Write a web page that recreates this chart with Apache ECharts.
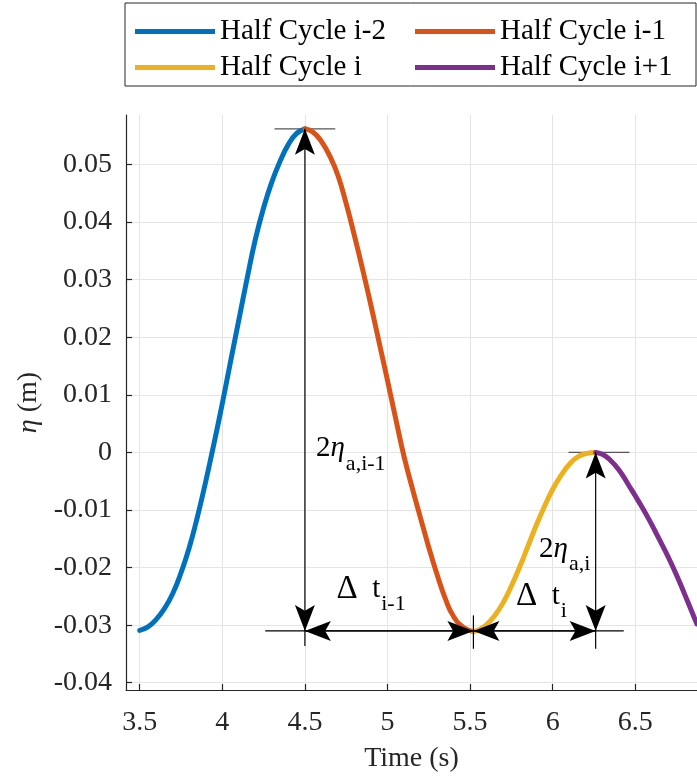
<!DOCTYPE html>
<html><head><meta charset="utf-8">
<script src="https://cdn.jsdelivr.net/npm/echarts@6/dist/echarts.min.js"></script>
<style>html,body{margin:0;padding:0;background:#fff}#chart{width:697px;height:778px}</style>
</head><body><div id="chart"></div>
<script>
// ---------- data ----------
const seriesNames = ['Half Cycle i-2', 'Half Cycle i-1', 'Half Cycle i', 'Half Cycle i+1'];
const halfCycleIm2 = [[3.50,-0.0309],[3.55,-0.0303],[3.60,-0.0290],[3.65,-0.0271],[3.70,-0.0245],[3.75,-0.0209],[3.80,-0.0165],[3.85,-0.0111],[3.90,-0.0050],[3.95,0.0016],[4.00,0.0085],[4.05,0.0158],[4.10,0.0230],[4.15,0.0302],[4.20,0.0370],[4.25,0.0425],[4.30,0.0470],[4.35,0.0506],[4.40,0.0535],[4.45,0.0554],[4.50,0.0562]];
const halfCycleIm1 = [[4.50,0.0562],[4.55,0.0556],[4.60,0.0540],[4.65,0.0515],[4.70,0.0481],[4.75,0.0432],[4.80,0.0376],[4.85,0.0317],[4.90,0.0255],[4.95,0.0190],[5.00,0.0125],[5.05,0.0058],[5.10,-0.0007],[5.15,-0.0062],[5.20,-0.0114],[5.25,-0.0165],[5.30,-0.0212],[5.35,-0.0254],[5.40,-0.0285],[5.46,-0.0304],[5.52,-0.0311]];
const halfCycleI   = [[5.52,-0.0311],[5.56,-0.0307],[5.60,-0.0299],[5.65,-0.0283],[5.70,-0.0261],[5.75,-0.0232],[5.80,-0.0199],[5.85,-0.0163],[5.90,-0.0127],[5.95,-0.0094],[6.00,-0.0064],[6.05,-0.0040],[6.10,-0.0021],[6.15,-0.0008],[6.20,-0.0002],[6.26,0.0000]];
const halfCycleIp1 = [[6.26,0.0000],[6.30,-0.0003],[6.34,-0.0011],[6.40,-0.0030],[6.46,-0.0057],[6.52,-0.0085],[6.58,-0.0115],[6.64,-0.0148],[6.70,-0.0182],[6.76,-0.0220],[6.82,-0.0261],[6.873,-0.0298]];
const timeTicks = [3.5, 4, 4.5, 5, 5.5, 6, 6.5];
const etaTicks = [-0.04, -0.03, -0.02, -0.01, 0, 0.01, 0.02, 0.03, 0.04, 0.05];
const timeRange = [3.417, 6.8735];
const etaRange = [-0.04126, 0.0586];
// annotation key points (time, eta)
const peakPrev = [4.50, 0.0562];
const troughPt = [5.52, -0.0310];
const peakCur = [6.26, 0.0000];
const baselineSpan = [4.26, 6.43];
const guideBottom = [-0.0336, -0.0341, -0.0341];
const guideTroughTop = -0.0283;
const peakMarkHalf = 0.184;
const labelAnchors = [[4.567,-0.00098],[4.691,-0.02534],[5.917,-0.01843],[5.778,-0.02655]];
const labelTexts = [
  {main:'{n|2}{i|η}', plain:[['2',''],['η','italic ']], sub:'a,i-1'},
  {main:'{d|Δ}{n|  t}', plain:[['Δ','d'],['  t','']], sub:'i-1'},
  {main:'{n|2}{i|η}', plain:[['2',''],['η','italic ']], sub:'a,i'},
  {main:'{d|Δ}{n|  t}', plain:[['Δ','d'],['  t','']], sub:'i'}
];

// ---------- derived annotation geometry ----------
const baseV = troughPt[1];
// [x1,y1,x2,y2,headAtStart,headAtEnd]
const arrowSegs = [
  [peakPrev[0], peakPrev[1], peakPrev[0], baseV, 1, 1],
  [peakPrev[0], baseV, troughPt[0], baseV, 1, 1],
  [troughPt[0], baseV, peakCur[0], baseV, 1, 1],
  [peakCur[0], peakCur[1], peakCur[0], baseV, 1, 1],
  [baselineSpan[0], baseV, baselineSpan[1], baseV, 0, 0],
  [peakPrev[0], baseV, peakPrev[0], guideBottom[0], 0, 0],
  [troughPt[0], guideTroughTop, troughPt[0], guideBottom[1], 0, 0],
  [peakCur[0], baseV, peakCur[0], guideBottom[2], 0, 0]
];
const peakMarks = [
  [peakPrev[0]-peakMarkHalf, peakPrev[1], peakPrev[0]+peakMarkHalf, peakPrev[1], 0, 0],
  [peakCur[0]-peakMarkHalf+0.02, peakCur[1], peakCur[0]+peakMarkHalf+0.02, peakCur[1], 0, 0]
];

const FONT = '"Liberation Serif", "Times New Roman", serif';
const COLORS = ['#0072BD', '#D95319', '#EDB120', '#7E2F8E'];
const AX = '#262626';

function arrowHead(tip, from) {
  const dx = from[0]-tip[0], dy = from[1]-tip[1];
  const len = Math.hypot(dx, dy) || 1;
  const ux = dx/len, uy = dy/len, nx = -uy, ny = ux;
  const L = 26, W = 10, N = 0.78*L;
  return {type:'polygon', shape:{points:[
    [tip[0], tip[1]],
    [tip[0]+ux*L+nx*W, tip[1]+uy*L+ny*W],
    [tip[0]+ux*N, tip[1]+uy*N],
    [tip[0]+ux*L-nx*W, tip[1]+uy*L-ny*W]
  ]}, style:{fill:'#000'}};
}
function segRenderer(color, width) {
  return function (params, api) {
    const p1 = api.coord([api.value(0), api.value(1)]);
    const p2 = api.coord([api.value(2), api.value(3)]);
    const ch = [{type:'line', shape:{x1:p1[0], y1:p1[1], x2:p2[0], y2:p2[1]}, style:{stroke:color, lineWidth:width}}];
    if (api.value(4)) ch.push(arrowHead(p1, p2));
    if (api.value(5)) ch.push(arrowHead(p2, p1));
    return {type:'group', children:ch};
  };
}
const mctx = document.createElement('canvas').getContext('2d');
const MAIN = 29, SUB = 22, DELTA = 33;
function measure(parts) {
  let w = 0;
  parts.forEach(([t, st]) => {
    const size = st === 'd' ? DELTA : MAIN;
    const pre = st === 'italic ' ? 'italic ' : '';
    mctx.font = pre + size + 'px "Liberation Serif"';
    w += mctx.measureText(t).width;
  });
  return w;
}
function labelRenderer(params, api) {
  const p = api.coord([api.value(0), api.value(1)]);
  const lt = labelTexts[params.dataIndex];
  const w = measure(lt.plain);
  return {type:'group', children:[
    {type:'text', x:p[0], y:p[1] - 0.32*MAIN, style:{text:lt.main, verticalAlign:'middle', align:'left',
      rich:{n:{fontFamily:FONT, fontSize:MAIN, fill:'#000'}, d:{fontFamily:FONT, fontSize:DELTA, fill:'#000'}, i:{fontFamily:FONT, fontSize:MAIN, fontStyle:'italic', fill:'#000'}}}},
    {type:'text', x:p[0] + w + 1, y:p[1] + 13 - 0.32*SUB, style:{text:lt.sub, verticalAlign:'middle', align:'left', fontFamily:FONT, fontSize:SUB, fill:'#000'}}
  ]};
}

const fmt = v => String(parseFloat(Number(v).toFixed(3)));
const lineSeries = [halfCycleIm2, halfCycleIm1, halfCycleI, halfCycleIp1].map((d, k) => ({
  name: seriesNames[k], type:'line', data:d, smooth:0.5, showSymbol:false, symbol:'none',
  lineStyle:{color:COLORS[k], width:5, cap:'round', join:'round'}, itemStyle:{color:COLORS[k]}, z:3, clip:true
}));

const chart = echarts.init(document.getElementById('chart'), null, {renderer:'canvas'});
chart.setOption({
  animation:false,
  backgroundColor:'#fff',
  grid:{left:126, right:0, top:115, bottom:85, containLabel:false},
  legend:{
    data:seriesNames.map(n => ({name:n, icon:'rect'})), left:125, top:3, width:556, padding:[14,8,4,10], itemGap:7,
    itemWidth:80, itemHeight:5, borderColor:AX, borderWidth:1, backgroundColor:'#fff',
    selectedMode:false,
    textStyle:{fontFamily:FONT, fontSize:29, color:'#000', width:188, lineHeight:25, overflow:'none'}
  },
  xAxis:{
    type:'value', min:timeRange[0], max:timeRange[1],
    axisLine:{onZero:false, lineStyle:{color:AX, width:1.2}},
    axisTick:{inside:true, length:6, customValues:timeTicks, lineStyle:{color:AX, width:1.2}},
    axisLabel:{customValues:timeTicks, formatter:fmt, fontFamily:FONT, fontSize:28, color:AX, margin:19},
    splitLine:{show:true, lineStyle:{color:'#e4e4e4', width:1}},
    name:'Time (s)', nameLocation:'middle', nameGap:55,
    nameTextStyle:{fontFamily:FONT, fontSize:28, color:AX}
  },
  yAxis:{
    type:'value', min:etaRange[0], max:etaRange[1],
    axisLine:{show:true, onZero:false, lineStyle:{color:AX, width:1.2}},
    axisTick:{show:true, inside:true, length:6, customValues:etaTicks, lineStyle:{color:AX, width:1.2}},
    axisLabel:{customValues:etaTicks, formatter:fmt, fontFamily:FONT, fontSize:28, color:AX, margin:14},
    splitLine:{show:true, lineStyle:{color:'#e4e4e4', width:1}},
    name:'{i|η} (m)', nameLocation:'middle', nameGap:56, nameRotate:90,
    nameTextStyle:{fontFamily:FONT, fontSize:28, color:AX, rich:{i:{fontFamily:FONT, fontSize:28, fontStyle:'italic', color:AX}}}
  },
  series: lineSeries.concat([
    {type:'custom', name:'peakMarks', renderItem:segRenderer('#555555', 1.3), data:peakMarks, encode:{x:[0,2], y:[1,3]}, z:2, silent:true},
    {type:'custom', name:'arrows', renderItem:segRenderer('#000000', 1.2), data:arrowSegs, encode:{x:[0,2], y:[1,3]}, z:5, silent:true},
    {type:'custom', name:'labels', renderItem:labelRenderer, data:labelAnchors, encode:{x:0, y:1}, z:6, silent:true}
  ])
});
</script></body></html>
